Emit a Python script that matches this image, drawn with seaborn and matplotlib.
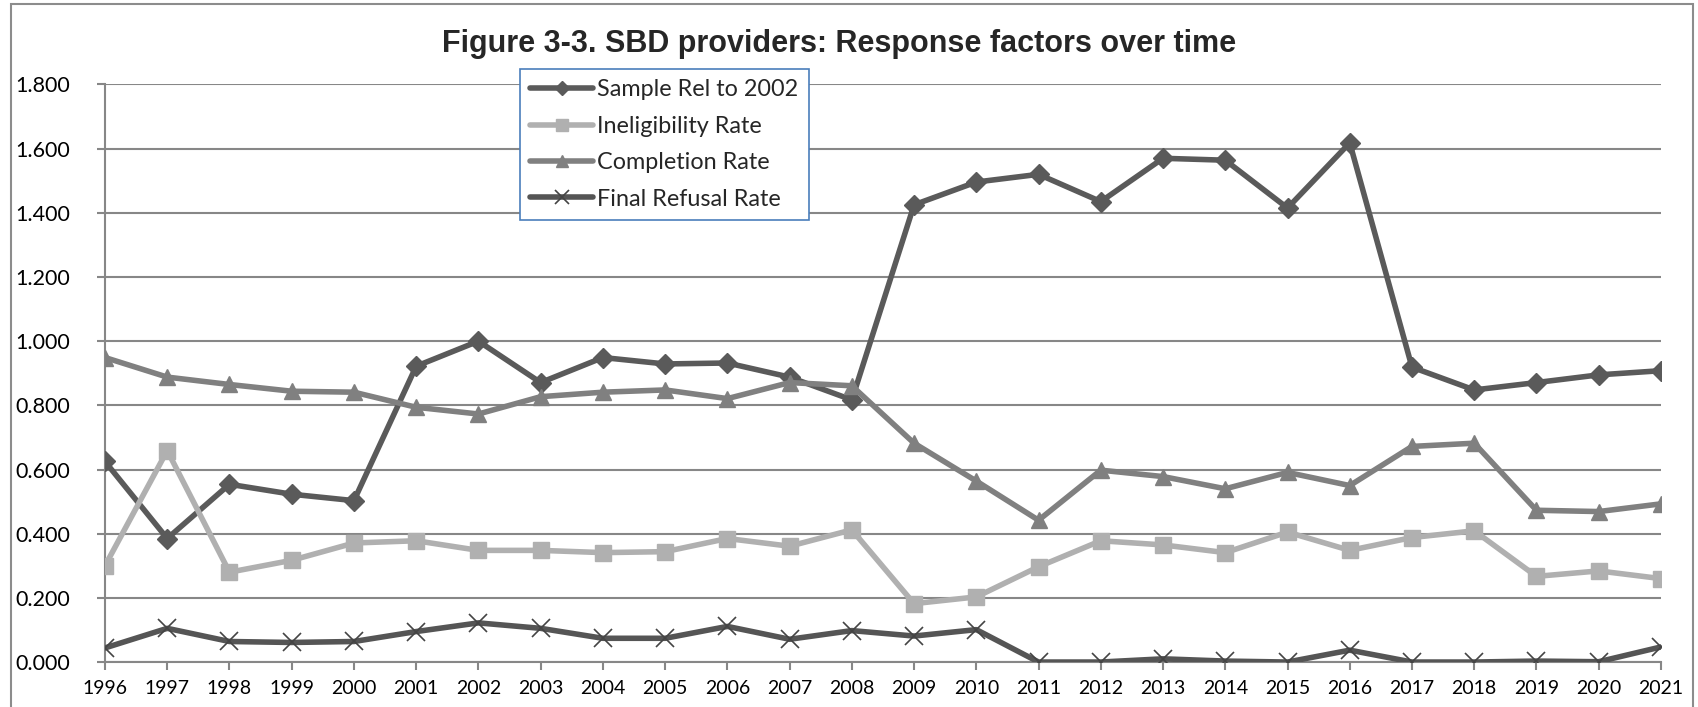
import matplotlib
matplotlib.use("Agg")
import matplotlib.pyplot as plt
import seaborn as sns
import pandas as pd
from matplotlib.patches import Rectangle

years = list(range(1996, 2022))
sample_rel = [0.625, 0.385, 0.554, 0.523, 0.503, 0.922, 1.000, 0.871, 0.949, 0.929,
              0.932, 0.888, 0.817, 1.425, 1.496, 1.520, 1.435, 1.570, 1.564, 1.415,
              1.618, 0.919, 0.848, 0.871, 0.895, 0.908]
inelig = [0.300, 0.659, 0.280, 0.317, 0.371, 0.378, 0.348, 0.348, 0.341, 0.344,
          0.385, 0.361, 0.412, 0.182, 0.203, 0.297, 0.378, 0.365, 0.341, 0.405,
          0.348, 0.388, 0.409, 0.267, 0.284, 0.260]
completion = [0.949, 0.888, 0.865, 0.844, 0.841, 0.794, 0.773, 0.827, 0.841, 0.848,
              0.821, 0.871, 0.861, 0.682, 0.564, 0.442, 0.598, 0.578, 0.540, 0.591,
              0.550, 0.672, 0.682, 0.473, 0.469, 0.493]
refusal = [0.044, 0.105, 0.064, 0.061, 0.064, 0.095, 0.122, 0.105, 0.074, 0.074,
           0.111, 0.071, 0.098, 0.081, 0.101, 0.000, 0.000, 0.010, 0.003, 0.000,
           0.037, 0.000, 0.000, 0.003, 0.001, 0.047]

series_names = ["Sample Rel to 2002", "Ineligibility Rate", "Completion Rate", "Final Refusal Rate"]
y_ticks = [0.0, 0.2, 0.4, 0.6, 0.8, 1.0, 1.2, 1.4, 1.6, 1.8]
title = "Figure 3-3. SBD providers: Response factors over time"

sns.set_theme(style="white")
plt.rcParams['font.family'] = ['Lato', 'DejaVu Sans']

fig = plt.figure(figsize=(16.99, 7.07), dpi=100)
fig.patches.append(Rectangle((0.0065, -0.02), 0.99, 1.014, transform=fig.transFigure,
                             fill=False, edgecolor='#8c8c8c', linewidth=1.5))
ax = fig.add_axes([0.0618, 0.0636, 0.9158, 0.8169])

df = pd.DataFrame({"year": years, series_names[0]: sample_rel, series_names[1]: inelig,
                   series_names[2]: completion, series_names[3]: refusal})

styles = [
    dict(color='#5a5a5a', marker='D', markersize=10, mec='#5a5a5a', mew=1),
    dict(color='#b0b0b0', marker='s', markersize=12, mec='#b0b0b0', mew=1),
    dict(color='#808080', marker='^', markersize=12, mec='#808080', mew=1),
    dict(color='#555555', marker='x', markersize=13, mec='#444444', mew=1.2),
]
for name, st in zip(series_names, styles):
    sns.lineplot(data=df, x="year", y=name, ax=ax, label=name, linewidth=4,
                 color=st['color'], marker=st['marker'], markersize=st['markersize'],
                 markeredgecolor=st['mec'], markeredgewidth=st['mew'], zorder=3)

ax.set_xlim(1996, 2021)
ax.set_ylim(0, 1.8)
ax.set_xticks(years)
ax.set_xticklabels([str(y) for y in years], fontsize=14)
ax.set_yticks(y_ticks)
ax.set_yticklabels([f"{v:.3f}" for v in y_ticks], fontsize=15.5)
ax.grid(axis='y', color='#878787', linewidth=1.5)
ax.set_axisbelow(True)
for s in ['top', 'right']:
    ax.spines[s].set_visible(False)
for s in ['left', 'bottom']:
    ax.spines[s].set_color('#878787')
    ax.spines[s].set_linewidth(1.5)
ax.tick_params(axis='both', direction='out', length=6, width=1.5, color='#878787',
               labelcolor='black', left=True, bottom=True)
ax.tick_params(axis='y', pad=19)
ax.tick_params(axis='x', pad=7)
ax.set_xlabel("")
ax.set_ylabel("")

fig.text(0.494, 0.938, title, ha='center', va='center', fontsize=22,
         fontweight='bold', family=['Liberation Sans', 'DejaVu Sans'])

leg = ax.legend(loc='upper left', bbox_to_anchor=(0.2667, 1.027), borderaxespad=0,
                fontsize=16.8, frameon=True, fancybox=False, handlelength=2.7,
                handletextpad=0.15, labelspacing=0.66, borderpad=0.45, markerscale=0.75)
leg.get_frame().set_edgecolor('#4a7ebb')
leg.get_frame().set_linewidth(1.2)
leg.get_frame().set_alpha(1)

fig.savefig("out.png", dpi=100)
